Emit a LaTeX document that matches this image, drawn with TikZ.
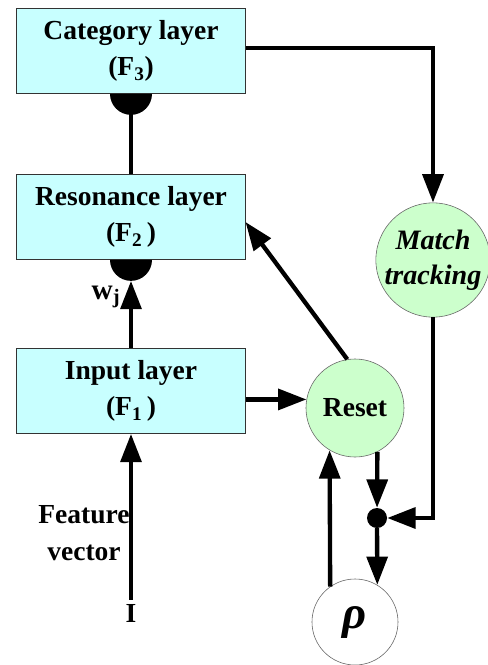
\documentclass[tikz,border=0pt]{standalone}
\usepackage{fontspec}
\setmainfont{Liberation Serif}
\usetikzlibrary{arrows.meta}

\definecolor{layercyan}{RGB}{200,255,255}
\definecolor{unitgreen}{RGB}{204,255,204}

\begin{document}
\begin{tikzpicture}
    [x=0.03cm, y=-0.03cm,
    font=\fontsize{23.5}{31}\selectfont\bfseries,
    % every node/.style={draw=red},
    layer/.style={draw=black!80, line width=0.6pt, fill=layercyan,
        minimum width=6.85cm, minimum height=2.55cm, align=center},
    unit/.style={circle, draw=black!60, line width=0.5pt, fill=unitgreen,
        inner sep=0pt, align=center},
    link/.style={line width=0.13cm},
    arr/.style={link, -{Triangle[length=0.85cm, width=0.62cm]}}]
    \useasboundingbox (0,0) rectangle (488,665);

    \node[layer] (cat) at (131,51) {Category layer\\(F\textsubscript{3})};
    \node[layer] (res) at (131,217) {Resonance layer\\(F\textsubscript{2}\,)};
    \node[layer] (inp) at (131,391) {Input layer\\(F\textsubscript{1}\,)};

    \node[unit, minimum size=2.94cm] (reset) at (355,408) {Reset};
    \node[unit, minimum size=3.2cm, font=\fontsize{24}{30}\selectfont\bfseries\itshape]
        (match) at (433,260) {Match\\tracking};
    \node[unit, fill=white, minimum size=2.58cm] (rho) at (355,622)
        {\fontsize{40}{40}\selectfont\itshape ρ};
    \node[circle, fill, minimum size=0.6cm, inner sep=0pt] (junc) at (377,518) {};

    \node (wj) at (106,297) {\fontsize{25}{30}\selectfont w\textsubscript{j}};
    \node[align=center] (feat) at (84,533) {Feature\\vector};
    \node (I) at (131,613) {I};

    % half-disc synapses under F3 and F2
    \fill ([xshift=-0.63cm]cat.south) arc[start angle=180, end angle=0, radius=21] -- cycle;
    \fill ([xshift=-0.63cm]res.south) arc[start angle=180, end angle=0, radius=21] -- cycle;

    \draw[link] (cat.south) -- (res.north);
    \draw[arr] (inp.north) -- ([yshift=-0.63cm]res.south);
    \draw[arr] (I.north) -- (inp.south);
    \draw[arr] (inp.east |- reset.170) -- (reset.170);
    \draw[arr] (reset.99) -- ([yshift=-0.15cm]res.east);
    \draw[arr] ([yshift=0.09cm]cat.east) -| (match);
    \draw[arr] (match) |- (junc);
    \draw[arr] (reset.-63) -- (junc);
    \draw[arr] (junc) -- (rho.59);
    \draw[arr] (rho.125) -- (reset.-121);
\end{tikzpicture}
\end{document}
